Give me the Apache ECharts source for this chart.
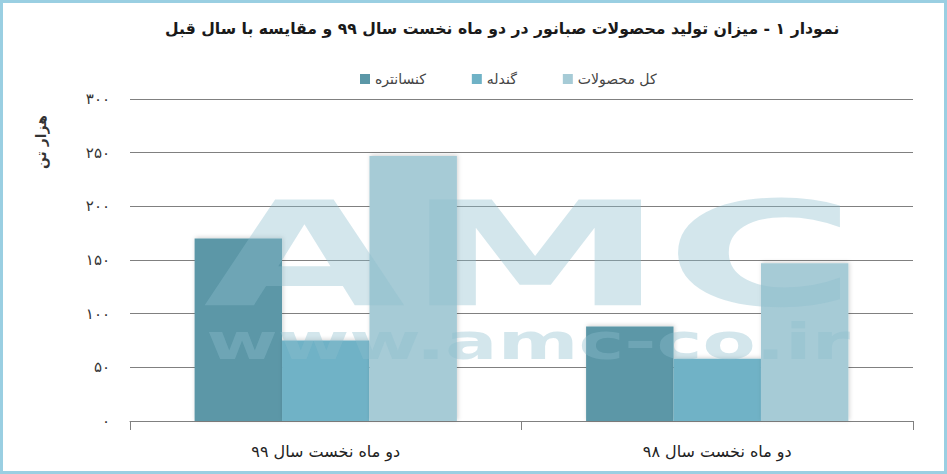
<!DOCTYPE html>
<html>
<head>
<meta charset="utf-8">
<script src="https://cdn.jsdelivr.net/npm/echarts@6/dist/echarts.min.js"></script>
<style>
html,body{margin:0;padding:0;background:#fff;}
#wrap{position:absolute;left:0;top:0;width:941px;height:468px;border:3px solid #9acfe2;}
#chart{width:941px;height:468px;}
</style>
</head>
<body>
<div id="wrap"><div id="chart"></div></div>
<script>
var titleText = 'نمودار ۱ - میزان تولید محصولات صبانور در دو ماه نخست سال ۹۹ و مقایسه با سال قبل';
var categories = ['دو ماه نخست سال ۹۹', 'دو ماه نخست سال ۹۸'];
var seriesNames = ['کنسانتره', 'گندله', 'کل محصولات'];
var konsantre = [170, 88];
var gondele = [75, 58];
var total = [247, 147];
var yTickLabels = ['۰', '۵۰', '۱۰۰', '۱۵۰', '۲۰۰', '۲۵۰', '۳۰۰'];
var yAxisName = 'هزار تن';
var colors = ['#5b97a7', '#6fb2c6', '#a6cbd6'];

var font = 'DejaVu Sans';
var chart = echarts.init(document.getElementById('chart'), null, {renderer: 'svg'});

function barSeries(name, data, color) {
  return {
    name: name, type: 'bar', data: data, barGap: '0%', barCategoryGap: '33%',
    itemStyle: {color: color, shadowBlur: 4, shadowColor: 'rgba(0,0,0,0.18)', shadowOffsetX: 1, shadowOffsetY: -1},
    z: 2
  };
}

chart.setOption({
  animation: false,
  color: colors,
  title: {
    text: titleText, left: 157, top: 12,
    textStyle: {fontFamily: font, fontWeight: 'bold', fontSize: 15.7, color: '#1a1a1a'}
  },
  legend: {
    data: seriesNames, top: 64, left: 352, itemWidth: 10, itemHeight: 10, itemGap: 46,
    icon: 'rect',
    textStyle: {fontFamily: font, fontSize: 14, color: '#444'}
  },
  grid: {left: 127, right: 31, top: 96, bottom: 50, containLabel: false},
  xAxis: {
    type: 'category', data: categories,
    axisLine: {lineStyle: {color: '#808080', width: 1}},
    axisTick: {show: true, length: 9, lineStyle: {color: '#808080'}},
    axisLabel: {fontFamily: font, fontSize: 16, color: '#222', margin: 22}
  },
  yAxis: {
    type: 'value', min: 0, max: 300, interval: 50,
    axisLine: {show: false}, axisTick: {show: false},
    splitLine: {lineStyle: {color: '#808080', width: 1}},
    axisLabel: {
      fontFamily: font, fontSize: 15, color: '#333', margin: 20,
      formatter: function (v) { return yTickLabels[Math.round(v / 50)]; }
    }
  },
  graphic: [
    {
      type: 'text', left: 31, top: 112, rotation: Math.PI / 2,
      style: {text: yAxisName, font: 'bold 14px "DejaVu Sans"', fill: '#333'}
    },
    {
      type: 'text', x: 527, y: 252, scaleX: 1.8, z: 100, silent: true,
      style: {text: 'AMC', font: 'bold 145px "DejaVu Sans"', fill: 'rgba(140,188,205,0.38)', textAlign: 'center', textVerticalAlign: 'middle'}
    },
    {
      type: 'text', x: 525, y: 338, scaleX: 1.55, z: 100, silent: true,
      style: {text: 'www.amc-co.ir', font: 'bold 50px "DejaVu Sans"', fill: 'rgba(140,188,205,0.38)', textAlign: 'center', textVerticalAlign: 'middle'}
    }
  ],
  series: [
    barSeries(seriesNames[0], konsantre, colors[0]),
    barSeries(seriesNames[1], gondele, colors[1]),
    barSeries(seriesNames[2], total, colors[2])
  ]
});
</script>
</body>
</html>
